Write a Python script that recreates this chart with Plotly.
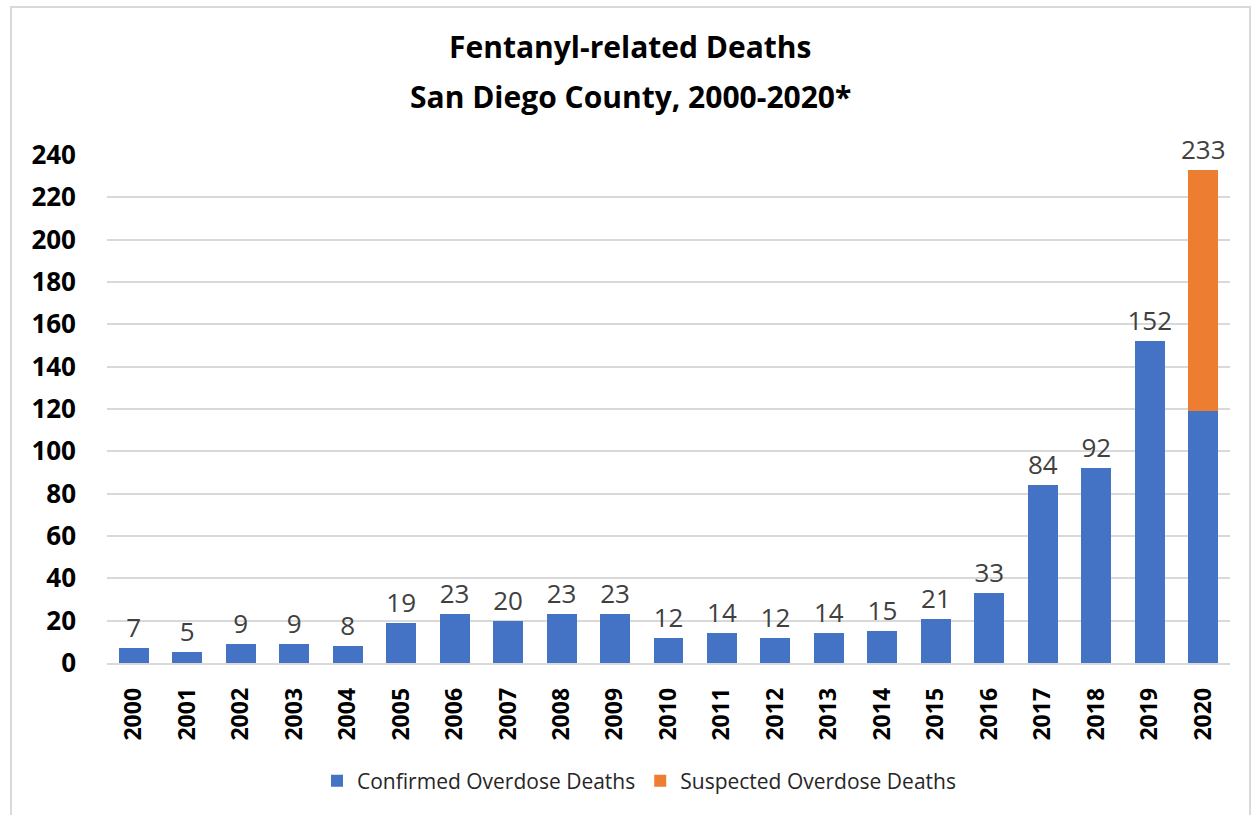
import plotly.graph_objects as go

years = [str(y) for y in range(2000, 2021)]
confirmed = [7, 5, 9, 9, 8, 19, 23, 20, 23, 23, 12, 14, 12, 14, 15, 21, 33, 84, 92, 152, 119]
suspected = [0]*20 + [114]
y_ticks = list(range(0, 241, 20))
title_lines = ["Fentanyl-related Deaths", "San Diego County, 2000-2020*"]

totals = [c + s for c, s in zip(confirmed, suspected)]
conf_text = [str(t) if s == 0 else "" for t, s in zip(totals, suspected)]
susp_text = [str(t) if s > 0 else "" for t, s in zip(totals, suspected)]

FONT = "Open Sans, Liberation Sans, sans-serif"
LBL = dict(size=26, color="#404040", family=FONT)

fig = go.Figure()
fig.add_trace(go.Bar(
    x=years, y=confirmed, name="Confirmed Overdose Deaths",
    marker=dict(color="#4472C4", line=dict(width=0)),
    text=conf_text, textposition="outside", cliponaxis=False,
    constraintext="none", textfont=LBL,
))
fig.add_trace(go.Bar(
    x=years, y=suspected, name="Suspected Overdose Deaths",
    marker=dict(color="#ED7D31", line=dict(width=0)),
    text=susp_text, textposition="outside", cliponaxis=False,
    constraintext="none", textfont=LBL,
))

TX = (630 - 107) / 1123
annotations = [
    dict(text="<b>%s</b>" % title_lines[0], xref="paper", yref="paper",
         x=TX, y=(663 - 47) / 508, xanchor="center", yanchor="middle",
         showarrow=False, font=dict(size=30, color="black", family=FONT)),
    dict(text="<b>%s</b>" % title_lines[1], xref="paper", yref="paper",
         x=TX, y=(663 - 96) / 508, xanchor="center", yanchor="middle",
         showarrow=False, font=dict(size=30, color="black", family=FONT)),
]

fig.update_layout(
    barmode="stack",
    bargap=0.44,
    width=1254, height=815,
    margin=dict(l=107, r=24, t=155, b=152),
    paper_bgcolor="white", plot_bgcolor="white",
    font=dict(family=FONT, color="black"),
    annotations=annotations,
    xaxis=dict(
        type="category", tickangle=-90,
        tickfont=dict(size=23, color="black", family=FONT, weight="bold"),
        showgrid=False, showline=True, linecolor="#D9D9D9", linewidth=1.5,
        ticks="", ticklabelstandoff=14,
    ),
    yaxis=dict(
        range=[0, 240], tickvals=y_ticks,
        tickfont=dict(size=26, color="black", family=FONT, weight="bold"),
        showgrid=True, gridcolor="#D9D9D9", gridwidth=1.5,
        zeroline=False, showline=False, ticks="", ticklabelstandoff=30,
    ),
    legend=dict(
        orientation="h", x=(639 - 107) / 1123, xanchor="center",
        y=(663 - 781) / 508, yanchor="middle",
        font=dict(size=21, color="#262626", family=FONT),
        traceorder="normal", itemwidth=30,
    ),
    showlegend=True,
    shapes=[dict(type="rect", xref="paper", yref="paper",
                 x0=(11 - 107) / 1123, x1=(1250 - 107) / 1123,
                 y0=-0.32, y1=(663 - 7) / 508,
                 line=dict(color="#D9D9D9", width=2), fillcolor="rgba(0,0,0,0)")],
)

fig.write_html("out.html")
